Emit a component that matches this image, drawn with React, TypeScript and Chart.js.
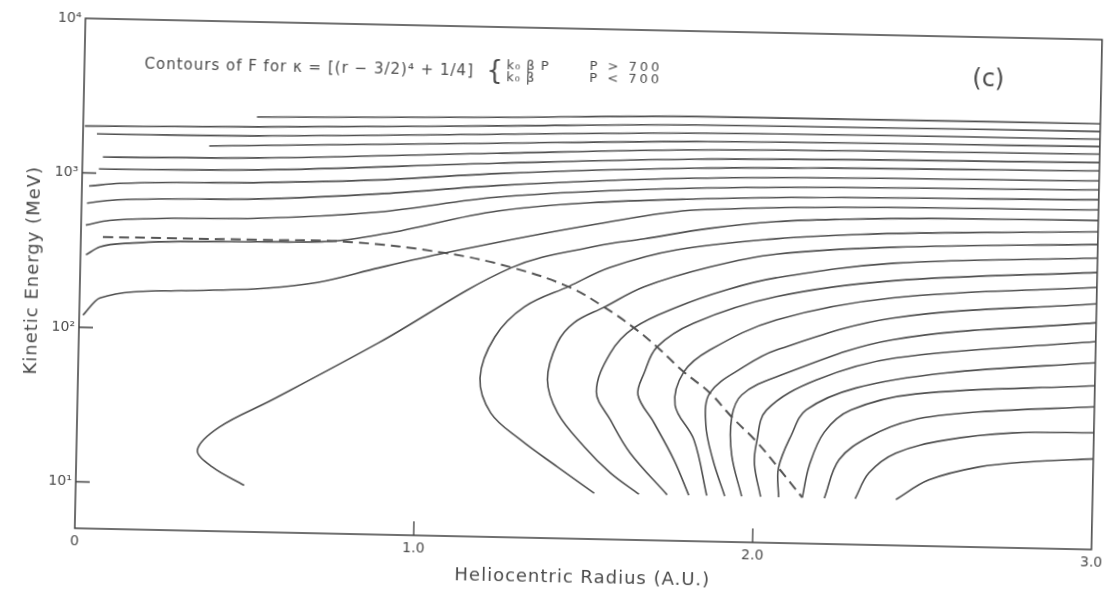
import React, { useEffect, useRef } from 'react';
import { Chart, registerables } from 'chart.js';

Chart.register(...registerables);

// ---- axis ticks ----
const xTickValues = [0, 1, 2, 3];
const xTickLabels = ['0', '1.0', '2.0', '3.0'];
const yTickValues = [10, 100, 1000, 10000];
const yTickLabels = ['10¹', '10²', '10³', '10⁴'];
const innerTickX = [1, 2];
const innerTickY = [10, 100, 1000];

type Pt = [number, number]; // [heliocentric radius (A.U.), kinetic energy (MeV)]

// ---- contours reaching the left side (top to bottom) ----
const lineA: Pt[] = [[0.512, 2427], [1.222, 2608], [1.81, 2800], [3.0, 2851]];
const lineB: Pt[] = [[0.005, 2012], [0.519, 2094], [1.222, 2290], [1.81, 2475], [3.0, 2542]];
const lineC: Pt[] = [[0.041, 1793], [0.519, 1831], [1.222, 2024], [1.81, 2187], [3.0, 2270]];
const lineD: Pt[] = [[0.373, 1552], [1.222, 1770], [1.81, 1929], [3.0, 2033]];
const lineE: Pt[] = [[0.06, 1275], [0.52, 1319], [1.222, 1525], [1.81, 1705], [3.0, 1815]];
const lineF: Pt[] = [[0.049, 1065], [0.52, 1103], [1.222, 1313], [1.81, 1484], [3.0, 1602]];
const lineG: Pt[] = [[0.021, 824], [0.112, 864], [0.52, 913], [0.876, 987], [1.222, 1125], [1.81, 1298], [3.0, 1415]];
const lineH: Pt[] = [[0.016, 637], [0.083, 669], [0.523, 716], [0.876, 801], [1.222, 940], [1.81, 1118], [3.0, 1219]];
const lineI: Pt[] = [[0.014, 460], [0.084, 496], [0.52, 537], [0.876, 612], [1.222, 790], [1.81, 963], [3.0, 1066]];
const lineJ: Pt[] = [[0.016, 295], [0.056, 333], [0.153, 357], [0.52, 378], [0.74, 390], [0.9, 445], [1.228, 645], [1.812, 821], [3.0, 919]];
const lineK: Pt[] = [[0.011, 120], [0.06, 156], [0.3, 178], [0.55, 190], [0.7, 210], [0.88, 266], [1.075, 339], [1.524, 549], [1.815, 697], [3.0, 791]];

// ---- C-shaped contours starting at the low-energy edge (left to right) ----
const curve1: Pt[] = [[0.497, 10], [0.402, 13], [0.357, 16.7], [0.42, 23.6], [0.574, 36], [0.884, 86.9], [1.27, 277], [1.524, 395], [1.661, 445], [1.85, 530], [2.05, 600], [2.25, 635], [2.5, 660], [3.0, 675]];
const curve2: Pt[] = [[1.53, 9.9], [1.42, 14.5], [1.31, 21.4], [1.22, 31.7], [1.186, 53.2], [1.227, 98.5], [1.313, 156], [1.444, 215], [1.563, 288], [1.759, 382], [2.052, 465], [2.3, 510], [2.6, 540], [3.0, 570]];
const curve3: Pt[] = [[1.662, 9.9], [1.576, 13.5], [1.498, 19.7], [1.417, 32.4], [1.385, 52.8], [1.412, 92], [1.46, 125], [1.548, 159], [1.664, 218], [1.857, 299], [2.053, 370], [2.4, 425], [3.0, 472]];
const curve4: Pt[] = [[1.745, 9.9], [1.633, 18.3], [1.573, 29.7], [1.53, 44.9], [1.569, 80.5], [1.637, 118], [1.763, 163], [1.908, 214], [2.054, 260], [2.4, 335], [3.0, 385]];
const curve5: Pt[] = [[1.809, 9.9], [1.763, 16.7], [1.702, 28.8], [1.653, 43.4], [1.67, 60.4], [1.706, 89.3], [1.813, 129], [2.055, 196], [2.4, 258], [3.0, 311]];
const curve6: Pt[] = [[1.862, 9.9], [1.821, 22.6], [1.763, 37.8], [1.787, 62.1], [1.862, 86.8], [2.057, 139], [2.4, 200], [3.0, 249]];
const curve7: Pt[] = [[1.915, 9.9], [1.878, 16.9], [1.855, 28.4], [1.865, 45.8], [1.963, 68.2], [2.059, 88.8], [2.4, 148], [3.0, 195]];
const curve8: Pt[] = [[1.965, 9.9], [1.933, 18.3], [1.931, 32.2], [1.959, 44.9], [2.06, 59.4], [2.4, 107], [3.0, 147]];
const curve9: Pt[] = [[2.021, 9.9], [2.001, 15.9], [2.006, 22.4], [2.033, 36.1], [2.178, 57.4], [2.411, 81.8], [3.0, 111]];
const curve10: Pt[] = [[2.074, 9.9], [2.072, 15.3], [2.108, 25.1], [2.15, 36.6], [2.296, 51.6], [2.559, 66.4], [3.0, 80.9]];
const curve11: Pt[] = [[2.144, 9.9], [2.163, 16.1], [2.205, 26.5], [2.282, 37.1], [2.472, 48.1], [3.0, 57.4]];
const curve12: Pt[] = [[2.209, 9.9], [2.25, 17.6], [2.337, 25], [2.465, 32.6], [2.658, 37.5], [3.0, 42]];
const curve13: Pt[] = [[2.3, 9.9], [2.339, 14.6], [2.417, 19.8], [2.563, 24.4], [2.759, 27.7], [3.0, 28.5]];
const curve14: Pt[] = [[2.42, 9.9], [2.516, 13.4], [2.662, 16.5], [2.808, 18.1], [3.0, 19.3]];

// ---- dashed curve ----
const dashedPath: Pt[] = [[0.065, 387], [0.526, 389], [0.8, 387], [1.075, 339], [1.27, 280], [1.444, 212], [1.548, 159], [1.637, 118], [1.706, 89.3], [1.787, 62.1], [1.865, 45.8], [1.931, 32.2], [2.006, 22.4], [2.072, 15.3], [2.144, 9.9]];

const sideContours: Pt[][] = [lineA, lineB, lineC, lineD, lineE, lineF, lineG, lineH, lineI, lineJ, lineK];
const loopContours: Pt[][] = [
  curve1, curve2, curve3, curve4, curve5, curve6, curve7, curve8, curve9, curve10, curve11, curve12, curve13, curve14,
];

const FONT = '"DejaVu Sans", "Liberation Sans", sans-serif';
const INK = '#4a4a4a';
const LINE = '#4f4f4f';

function setSpacing(ctx: any, v: string) {
  try {
    ctx.letterSpacing = v;
  } catch (e) {
    /* ignore */
  }
}

const decorPlugin = {
  id: 'figureDecor',
  afterDatasetsDraw(chart: any) {
    const { ctx, chartArea: a, scales } = chart;
    ctx.save();
    // frame
    ctx.strokeStyle = '#404040';
    ctx.lineWidth = 1.5;
    ctx.strokeRect(a.left, a.top, a.right - a.left, a.bottom - a.top);
    // inward ticks
    ctx.lineWidth = 1.3;
    ctx.beginPath();
    for (const v of innerTickY) {
      const y = scales.y.getPixelForValue(v);
      ctx.moveTo(a.left, y);
      ctx.lineTo(a.left + 14, y);
    }
    for (const v of innerTickX) {
      const x = scales.x.getPixelForValue(v);
      ctx.moveTo(x, a.bottom);
      ctx.lineTo(x, a.bottom - 14);
    }
    ctx.stroke();

    ctx.fillStyle = INK;
    ctx.textBaseline = 'middle';

    // axis titles
    ctx.font = `18px ${FONT}`;
    setSpacing(ctx, '1px');
    ctx.textAlign = 'center';
    ctx.fillText('Heliocentric Radius (A.U.)', (a.left + a.right) / 2, a.bottom + 39);
    ctx.save();
    ctx.translate(a.left - 47, (a.top + a.bottom) / 2 - 2);
    ctx.rotate(-Math.PI / 2);
    ctx.fillText('Kinetic Energy (MeV)', 0, 0);
    ctx.restore();

    // annotation text
    ctx.textAlign = 'left';
    ctx.font = `15px ${FONT}`;
    setSpacing(ctx, '1px');
    const main = 'Contours of F for κ = [(r − 3/2)⁴ + 1/4]';
    const mx = a.left + 60;
    const my = a.top + 45;
    ctx.fillText(main, mx, my);
    const endX = mx + ctx.measureText(main).width;
    const braceX = Math.max(a.left + 402, endX + 6);
    setSpacing(ctx, '0px');
    ctx.font = `26px ${FONT}`;
    ctx.fillText('{', braceX, my);
    const kx = braceX + 20;
    ctx.font = `13px ${FONT}`;
    setSpacing(ctx, '1px');
    ctx.fillText('k₀ β P', kx, my - 6);
    ctx.fillText('k₀ β', kx, my + 6);
    const px = Math.max(a.left + 505, kx + 70);
    setSpacing(ctx, '3px');
    ctx.fillText('P > 700', px, my - 7);
    ctx.fillText('P < 700', px, my + 5);
    setSpacing(ctx, '0px');
    ctx.textAlign = 'center';
    ctx.font = `24px ${FONT}`;
    ctx.fillText('(c)', a.left + 904, a.top + 43);
    ctx.restore();
  },
};

export default function App() {
  const ref = useRef<HTMLCanvasElement | null>(null);

  useEffect(() => {
    const canvas = ref.current;
    if (!canvas) return;

    const datasets: any[] = [];
    sideContours.forEach((pts, i) => {
      datasets.push({
        label: `side${i + 1}`,
        data: pts.map(([x, y]) => ({ x, y })),
        showLine: true,
        borderColor: LINE,
        borderWidth: 1.6,
        pointRadius: 0,
        pointHoverRadius: 0,
        cubicInterpolationMode: 'monotone',
        fill: false,
      });
    });
    loopContours.forEach((pts, i) => {
      datasets.push({
        label: `loop${i + 1}`,
        data: pts.map(([x, y]) => ({ x, y })),
        showLine: true,
        borderColor: LINE,
        borderWidth: 1.6,
        pointRadius: 0,
        pointHoverRadius: 0,
        tension: 0.36,
        fill: false,
      });
    });
    datasets.push({
      label: 'dashed',
      data: dashedPath.map(([x, y]) => ({ x, y })),
      showLine: true,
      borderColor: '#555555',
      borderWidth: 2,
      borderDash: [10, 6],
      pointRadius: 0,
      pointHoverRadius: 0,
      tension: 0.4,
      fill: false,
    });

    const tickFont = { family: FONT, size: 14 };

    const chart = new Chart(canvas, {
      type: 'scatter',
      data: { datasets },
      options: {
        animation: false,
        responsive: false,
        maintainAspectRatio: false,
        devicePixelRatio: 1,
        events: [],
        layout: { padding: { left: 0, right: 10, top: 29, bottom: 0 } },
        plugins: {
          legend: { display: false },
          tooltip: { enabled: false },
        },
        scales: {
          x: {
            type: 'linear',
            min: 0,
            max: 3,
            afterBuildTicks: (s: any) => {
              s.ticks = xTickValues.map((v) => ({ value: v }));
            },
            afterFit: (s: any) => {
              s.height = 52;
            },
            ticks: {
              autoSkip: false,
              maxRotation: 0,
              padding: 5,
              color: INK,
              font: tickFont,
              callback: (v: any) => {
                const i = xTickValues.indexOf(Number(v));
                return i >= 0 ? xTickLabels[i] : '';
              },
            },
            grid: { display: false, drawTicks: false },
            border: { display: false },
            title: { display: false },
          },
          y: {
            type: 'logarithmic',
            min: 5,
            max: 10000,
            afterBuildTicks: (s: any) => {
              s.ticks = yTickValues.map((v) => ({ value: v }));
            },
            afterFit: (s: any) => {
              s.width = 80;
            },
            ticks: {
              autoSkip: false,
              padding: 4,
              color: INK,
              font: tickFont,
              callback: (v: any) => {
                const i = yTickValues.indexOf(Number(v));
                return i >= 0 ? yTickLabels[i] : '';
              },
            },
            grid: { display: false, drawTicks: false },
            border: { display: false },
            title: { display: false },
          },
        },
      } as any,
      plugins: [decorPlugin],
    });

    return () => {
      chart.destroy();
    };
  }, []);

  return (
    <div
      style={{
        position: 'fixed',
        left: 0,
        top: 0,
        width: 1113,
        height: 591,
        transform: 'rotate(1.2deg)',
        transformOrigin: '591px 284px',
      }}
    >
      <canvas ref={ref} width={1113} height={591} style={{ display: 'block', width: 1113, height: 591 }} />
    </div>
  );
}
